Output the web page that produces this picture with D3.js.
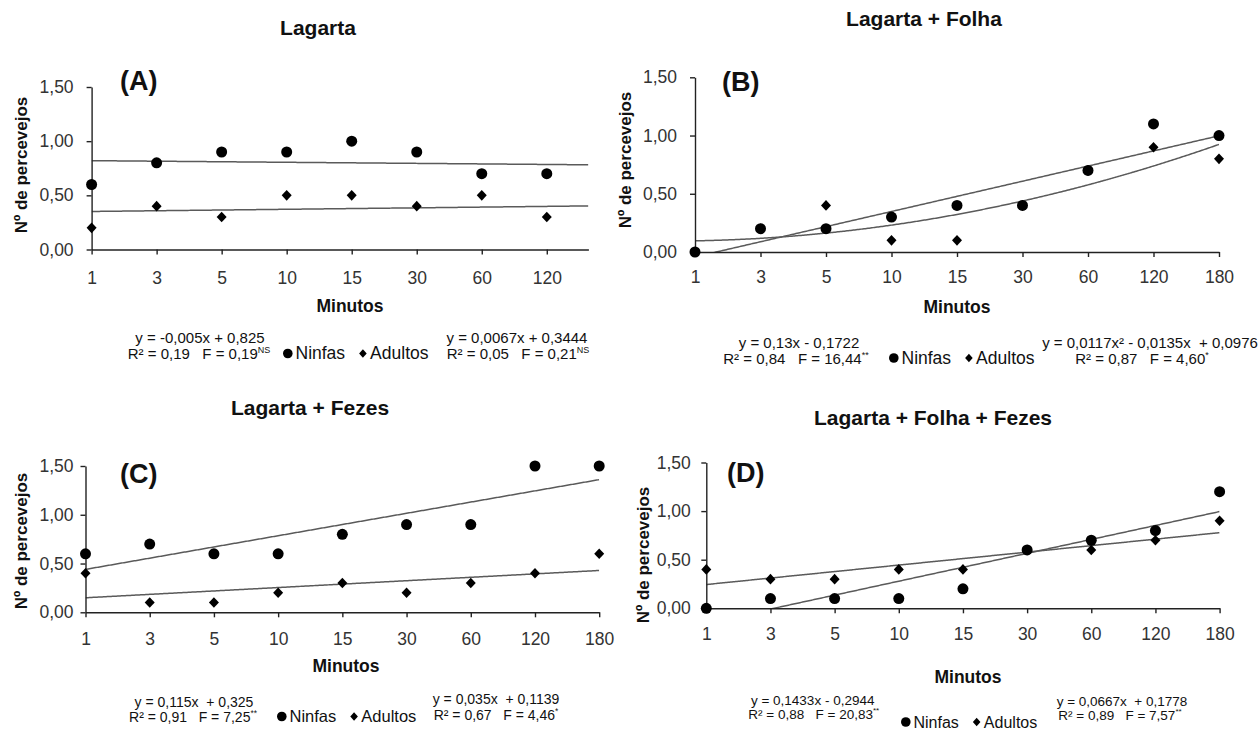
<!DOCTYPE html>
<html><head><meta charset="utf-8">
<script src="https://cdn.jsdelivr.net/npm/d3@7"></script>
<style>
body{margin:0;background:#fff}
svg{display:block}
text{font-family:"Liberation Sans",Arial,Helvetica,sans-serif;white-space:pre}
</style>
</head><body>
<svg id="c" width="1259" height="730"></svg>
<script>
// ---------------- DATA ----------------
const categoriesA = ["1","3","5","10","15","30","60","120"];
const categories  = ["1","3","5","10","15","30","60","120","180"];
const yTicks = [0, 0.5, 1.0, 1.5];

const ninfasA  = [0.6,0.8,0.9,0.9,1.0,0.9,0.7,0.7];
const adultosA = [0.2,0.4,0.3,0.5,0.5,0.4,0.5,0.3];
const ninfasB  = [0.0,0.2,0.2,0.3,0.4,0.4,0.7,1.1,1.0];
const adultosB = [0.0,0.2,0.4,0.1,0.1,0.4,0.7,0.9,0.8];
const ninfasC  = [0.6,0.7,0.6,0.6,0.8,0.9,0.9,1.5,1.5];
const adultosC = [0.4,0.1,0.1,0.2,0.3,0.2,0.3,0.4,0.6];
const ninfasD  = [0.0,0.1,0.1,0.1,0.2,0.6,0.7,0.8,1.2];
const adultosD = [0.4,0.3,0.3,0.4,0.4,0.6,0.6,0.7,0.9];

// regression coefficients [c0, c1, c2] : y = c0 + c1*x + c2*x^2
const fitNinfasA  = [0.825, -0.005, 0];
const fitAdultosA = [0.3444, 0.0067, 0];
const fitNinfasB  = [-0.1722, 0.13, 0];
const fitAdultosB = [0.0976, -0.0135, 0.0117];
const fitNinfasC  = [0.325, 0.115, 0];
const fitAdultosC = [0.1139, 0.035, 0];
const fitNinfasD  = [-0.2944, 0.1433, 0];
const fitAdultosD = [0.1778, 0.0667, 0];

const titles = ["Lagarta","Lagarta + Folha","Lagarta + Fezes","Lagarta + Folha + Fezes"];
const tags = ["(A)","(B)","(C)","(D)"];
const eqNinfas  = ["y = -0,005x + 0,825","y = 0,13x - 0,1722","y = 0,115x  + 0,325","y = 0,1433x - 0,2944"];
const stNinfas  = [["R² = 0,19   F = 0,19","NS"],["R² = 0,84   F = 16,44","**"],["R² = 0,91   F = 7,25","**"],["R² = 0,88   F = 20,83","**"]];
const eqAdultos = ["y = 0,0067x + 0,3444","y = 0,0117x² - 0,0135x  + 0,0976","y = 0,035x  + 0,1139","y = 0,0667x  + 0,1778"];
const stAdultos = [["R² = 0,05   F = 0,21","NS"],["R² = 0,87   F = 4,60","*"],["R² = 0,67   F = 4,46","*"],["R² = 0,89   F = 7,57","**"]];
const axisTitleX = "Minutos";
const axisTitleY = "Nº de percevejos";
const legendNames = ["Ninfas","Adultos"];

// ---------------- LAYOUT ----------------
const layouts = [
 {x0:91.6, x1:588.4, xEnd:8.64, y0:249.5, y1:87, tx:318, ty:35, tagX:120, tagY:90, xlab:34, ylabPad:18,
  minX:350, minY:312, ytX:21, ytY:165, eqF:15, legF:17.5,
  eqN:[[200,343],[199,359]], eqA:[[517,343],[518,359]], leg:[283,359]},
 {x0:695, x1:1219, xEnd:9, y0:252, y1:77.3, tx:924, ty:26, tagX:722, tagY:91, xlab:31, ylabPad:18,
  minX:957, minY:313, ytX:625, ytY:160, eqF:15, legF:17.5,
  eqN:[[799,348],[796,363.5]], eqA:[[1150,348],[1142,363.5]], leg:[889,363.5]},
 {x0:85.5, x1:599.2, xEnd:9, y0:612.3, y1:466, tx:310, ty:415, tagX:120, tagY:483, xlab:33, ylabPad:12,
  minX:346, minY:672, ytX:21, ytY:541, eqF:14, legF:16.5,
  eqN:[[194,706.5],[193,722]], eqA:[[496,704.3],[496,720]], leg:[277,722]},
 {x0:706.3, x1:1219.6, xEnd:9, y0:608.3, y1:462.5, tx:933, ty:425, tagX:727, tagY:482, xlab:32, ylabPad:15.5,
  minX:968, minY:683, ytX:643, ytY:555, eqF:13.5, legF:16,
  eqN:[[812.7,704.5],[813.8,718.8]], eqA:[[1122,705.5],[1120,719.8]], leg:[901,727.5]}
];

const panels = [
 {cats:categoriesA, nin:ninfasA, adu:adultosA, fN:fitNinfasA, fA:fitAdultosA},
 {cats:categories,  nin:ninfasB, adu:adultosB, fN:fitNinfasB, fA:fitAdultosB},
 {cats:categories,  nin:ninfasC, adu:adultosC, fN:fitNinfasC, fA:fitAdultosC},
 {cats:categories,  nin:ninfasD, adu:adultosD, fN:fitNinfasD, fA:fitAdultosD}
];

const svg = d3.select("#c");
const fmt = d3.formatLocale({decimal:",", thousands:".", grouping:[3], currency:["",""]}).format(".2f");
const AX = "#222", TREND = "#5a5a5a", TXT = "#111";
const diamond = (hw, hh) => `M0,${-hh}L${hw},0L0,${hh}L${-hw},0Z`;

function supText(g, x, y, parts, size, anchor){
  const t = g.append("text").attr("x", x).attr("y", y).attr("text-anchor", anchor)
    .attr("font-size", size).attr("fill", TXT);
  t.append("tspan").text(parts[0]);
  if (parts[1]) t.append("tspan").attr("font-size", size*0.6).attr("dy", -size*0.4).text(parts[1]);
  return t;
}

panels.forEach((p, i) => {
  const L = layouts[i];
  const g = svg.append("g");
  const n = p.cats.length;
  const x = d3.scaleLinear().domain([1, L.xEnd]).range([L.x0, L.x1]);
  const y = d3.scaleLinear().domain([0, 1.5]).range([L.y0, L.y1]);

  const cid = "clip" + i;
  svg.append("clipPath").attr("id", cid).append("rect")
    .attr("x", L.x0).attr("y", L.y1 - 20).attr("width", L.x1 - L.x0).attr("height", L.y0 - L.y1 + 20);

  // trend lines from the fitted equations
  [p.fN, p.fA].forEach(c => {
    const xs = d3.range(1, L.xEnd, 0.02).concat([L.xEnd]);
    g.append("path").attr("clip-path", `url(#${cid})`)
      .attr("d", d3.line().x(v => x(v)).y(v => y(c[0] + c[1]*v + c[2]*v*v))(xs))
      .attr("fill", "none").attr("stroke", TREND).attr("stroke-width", 1.5);
  });

  // axes
  const ya = g.append("g").attr("transform", `translate(${L.x0},0)`)
    .call(d3.axisLeft(y).tickValues(yTicks).tickFormat(fmt).tickSize(5).tickSizeOuter(0).tickPadding(L.ylabPad - 5));
  const xa = g.append("g").attr("transform", `translate(0,${L.y0})`)
    .call(d3.axisBottom(x).tickValues(d3.range(1, n + 1)).tickFormat(k => p.cats[k - 1]).tickSize(5).tickSizeOuter(0));
  [ya, xa].forEach(a => {
    a.attr("font-size", null).attr("font-family", null);
    a.selectAll("path,line").attr("stroke", AX).attr("stroke-width", 1.4);
    a.selectAll("text").attr("font-size", 17.5).attr("fill", "#333");
  });
  xa.selectAll("text").attr("y", L.xlab).attr("dy", null);

  // points
  g.selectAll(".n").data(p.nin).enter().append("circle")
    .attr("cx", (d, k) => x(k + 1)).attr("cy", d => y(d)).attr("r", 5.5).attr("fill", "#000");
  g.selectAll(".a").data(p.adu).enter().append("path")
    .attr("transform", (d, k) => `translate(${x(k + 1)},${y(d)})`)
    .attr("d", diamond(5, 5.3)).attr("fill", "#000");

  // titles
  g.append("text").attr("x", L.tx).attr("y", L.ty).attr("text-anchor", "middle")
    .attr("font-size", 21).attr("font-weight", "bold").attr("fill", TXT).text(titles[i]);
  g.append("text").attr("x", L.tagX).attr("y", L.tagY)
    .attr("font-size", 27).attr("font-weight", "bold").attr("fill", TXT).text(tags[i]);
  g.append("text").attr("x", L.minX).attr("y", L.minY).attr("text-anchor", "middle")
    .attr("font-size", 17.5).attr("font-weight", "bold").attr("fill", TXT).text(axisTitleX);
  g.append("text").attr("transform", `translate(${L.ytX},${L.ytY}) rotate(-90)`).attr("dy", "0.36em")
    .attr("text-anchor", "middle").attr("font-size", 17).attr("font-weight", "bold").attr("fill", TXT).text(axisTitleY);

  // equations
  supText(g, L.eqN[0][0], L.eqN[0][1], [eqNinfas[i]], L.eqF, "middle");
  supText(g, L.eqN[1][0], L.eqN[1][1], stNinfas[i], L.eqF, "middle");
  supText(g, L.eqA[0][0], L.eqA[0][1], [eqAdultos[i]], L.eqF, "middle");
  supText(g, L.eqA[1][0], L.eqA[1][1], stAdultos[i], L.eqF, "middle");

  // legend
  let lx = L.leg[0];
  const ly = L.leg[1];
  g.append("circle").attr("cx", lx + 4.8).attr("cy", ly - 5.5).attr("r", 4.8).attr("fill", "#000");
  const t1 = g.append("text").attr("x", lx + 12.5).attr("y", ly).attr("font-size", L.legF).attr("fill", TXT).text(legendNames[0]);
  lx = lx + 12.5 + t1.node().getComputedTextLength() + 14;
  g.append("path").attr("transform", `translate(${lx + 3.8},${ly - 5.5})`).attr("d", diamond(3.8, 4.2)).attr("fill", "#000");
  g.append("text").attr("x", lx + 11).attr("y", ly).attr("font-size", L.legF).attr("fill", TXT).text(legendNames[1]);
});
</script>
</body></html>
